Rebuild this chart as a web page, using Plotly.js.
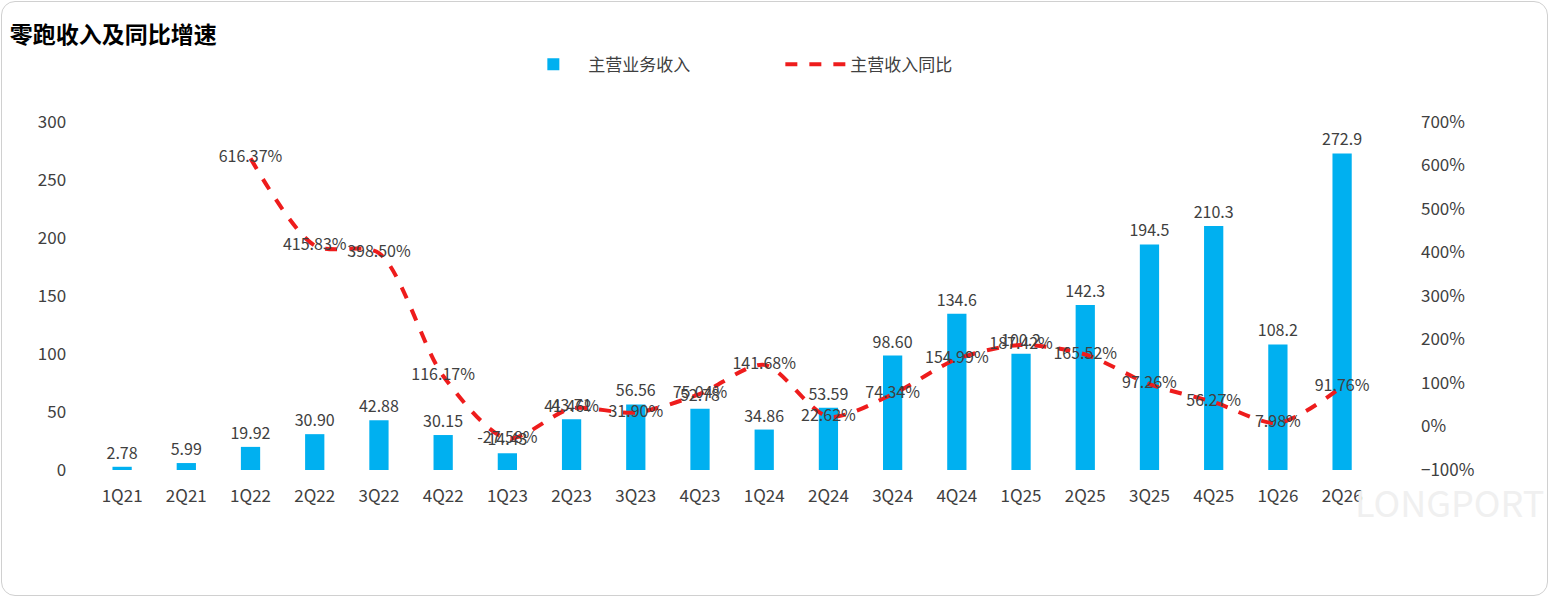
<!DOCTYPE html>
<html><head><meta charset="utf-8">
<script src="https://cdn.plot.ly/plotly-3.0.1.min.js"></script>
<style>
body{margin:0;background:#fff;}
#wrap{position:absolute;left:1px;top:1px;width:1545px;height:593px;border:1px solid #d0d0d0;border-radius:14px;overflow:hidden;}
#chart{width:1545px;height:593px;}
</style></head><body>
<div id="wrap"><div id="chart"></div></div>
<script>
const quarters = ['1Q21','2Q21','1Q22','2Q22','3Q22','4Q22','1Q23','2Q23','3Q23','4Q23','1Q24','2Q24','3Q24','4Q24','1Q25','2Q25','3Q25','4Q25','1Q26','2Q26'];
const revenue = [2.78,5.99,19.92,30.90,42.88,30.15,14.43,43.71,56.56,52.78,34.86,53.59,98.60,134.6,100.2,142.3,194.5,210.3,108.2,272.9];
const revenueLabels = ['2.78','5.99','19.92','30.90','42.88','30.15','14.43','43.71','56.56','52.78','34.86','53.59','98.60','134.6','100.2','142.3','194.5','210.3','108.2','272.9'];
const yoyQuarters = quarters.slice(2);
const yoy = [616.37,415.83,398.50,116.17,-27.58,41.46,31.90,75.04,141.68,22.62,74.34,154.99,187.42,165.52,97.26,56.27,7.98,91.76];

const font = {family:'"Microsoft YaHei","Noto Sans CJK SC",sans-serif', size:17, color:'#404040'};

const traces = [
  {x:quarters, y:revenue, type:'bar', name:'主营业务收入', marker:{color:'#00b0f0'}, width:0.3,
   text:revenueLabels, textposition:'outside', constraintext:'none', cliponaxis:false, textfont:{size:16,color:'#404040'}},
  {x:yoyQuarters, y:yoy, type:'scatter', mode:'lines+text', name:'主营收入同比', yaxis:'y2',
   line:{color:'#ee1c1c', width:4, dash:'dash', shape:'spline', smoothing:0.8},
   text:yoy.map(v=>v.toFixed(2)+'%'), textposition:'middle center', textfont:{size:16,color:'#404040'}, cliponaxis:false}
];

const layout = {
  width:1545, height:593,
  paper_bgcolor:'rgba(0,0,0,0)', plot_bgcolor:'rgba(0,0,0,0)',
  margin:{l:88, r:139, t:120, b:125},
  font: font,
  showlegend:true,
  legend:{orientation:'h', x:0.325, xanchor:'left', y:1.165, yanchor:'middle', font:{size:17,color:'#404040'}, itemwidth:60, entrywidth:187, traceorder:'normal'},
  title:{text:'<b>零跑收入及同比增速</b>', x:0.005, xanchor:'left', y:0.945, yanchor:'middle', yref:'container', font:{size:23,color:'#000'}},
  xaxis:{type:'category', showline:false, ticks:'', tickfont:{size:17}, ticklabelstandoff:14},
  yaxis:{range:[0,300], dtick:50, showgrid:false, zeroline:false, tickfont:{size:17}, ticksuffix:'      '},
  yaxis2:{overlaying:'y', side:'right', range:[-100,700], dtick:100, ticksuffix:'%', showgrid:false, zeroline:false, tickfont:{size:17}, ticklabelstandoff:12},
  bargap:0.7,
  annotations:[{text:'LONGPORT', xref:'paper', yref:'paper', x:1.105, y:-0.17, xanchor:'right', showarrow:false, font:{size:36,color:'#f0f0f0'}}]
};
Plotly.newPlot('chart', traces, layout, {displayModeBar:false});
</script>
</body></html>
